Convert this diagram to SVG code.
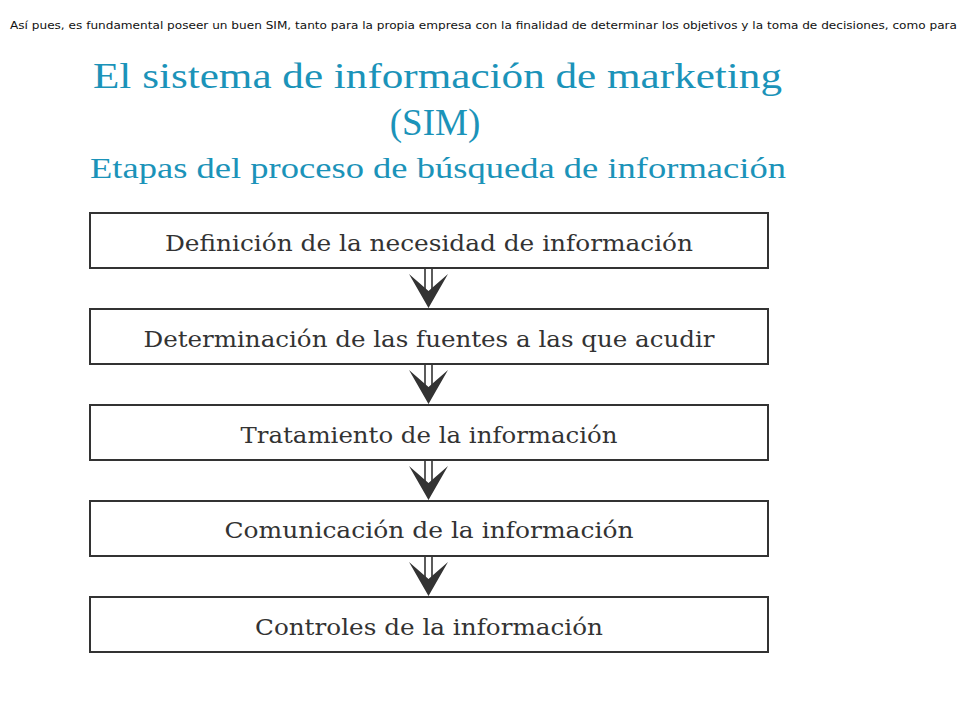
<svg xmlns="http://www.w3.org/2000/svg" width="960" height="720" viewBox="0 0 960 720">
<defs>
<style>
.note{font-family:"DejaVu Sans",Verdana,sans-serif;font-size:11px;fill:#111}
.title{font-family:"Liberation Serif","DejaVu Serif",serif;fill:#1b93b9}
.box{fill:#fff;stroke:#333;stroke-width:2}
.lbl{font-family:"DejaVu Serif","Liberation Serif",serif;font-size:22px;fill:#333;text-anchor:middle}
.shaft{stroke:#333;stroke-width:1.6;fill:none}
.head{fill:#333}
</style>
<g id="arrow">
<line class="shaft" x1="425" y1="0" x2="425" y2="20"/>
<line class="shaft" x1="432" y1="0" x2="432" y2="20"/>
<polygon class="head" points="409,5 428.5,22 448,5 428.5,39"/>
</g>
</defs>
<rect width="960" height="720" fill="#fff"/>
<text class="note" x="10" y="29" textLength="947" lengthAdjust="spacingAndGlyphs">Así pues, es fundamental poseer un buen SIM, tanto para la propia empresa con la finalidad de determinar los objetivos y la toma de decisiones, como para</text>
<g id="title">
<text class="title" x="93" y="88" font-size="36" textLength="689" lengthAdjust="spacingAndGlyphs">El sistema de información de marketing</text>
<text class="title" x="435" y="135" font-size="37" text-anchor="middle">(SIM)</text>
<text class="title" x="90" y="178" font-size="30" textLength="696" lengthAdjust="spacingAndGlyphs">Etapas del proceso de búsqueda de información</text>
</g>
<g id="connectors">
<use href="#arrow" x="0" y="269"/>
<use href="#arrow" x="0" y="365"/>
<use href="#arrow" x="0" y="461"/>
<use href="#arrow" x="0" y="557"/>
</g>
<g id="n1"><rect class="box" x="90" y="213" width="678" height="55"/><text class="lbl" x="429" y="251" textLength="528" lengthAdjust="spacingAndGlyphs">Definición de la necesidad de información</text></g>
<g id="n2"><rect class="box" x="90" y="309" width="678" height="55"/><text class="lbl" x="429" y="347" textLength="571" lengthAdjust="spacingAndGlyphs">Determinación de las fuentes a las que acudir</text></g>
<g id="n3"><rect class="box" x="90" y="405" width="678" height="55"/><text class="lbl" x="429" y="443" textLength="377" lengthAdjust="spacingAndGlyphs">Tratamiento de la información</text></g>
<g id="n4"><rect class="box" x="90" y="501" width="678" height="55"/><text class="lbl" x="429" y="538" textLength="409" lengthAdjust="spacingAndGlyphs">Comunicación de la información</text></g>
<g id="n5"><rect class="box" x="90" y="597" width="678" height="55"/><text class="lbl" x="429" y="635" textLength="348" lengthAdjust="spacingAndGlyphs">Controles de la información</text></g>
</svg>
